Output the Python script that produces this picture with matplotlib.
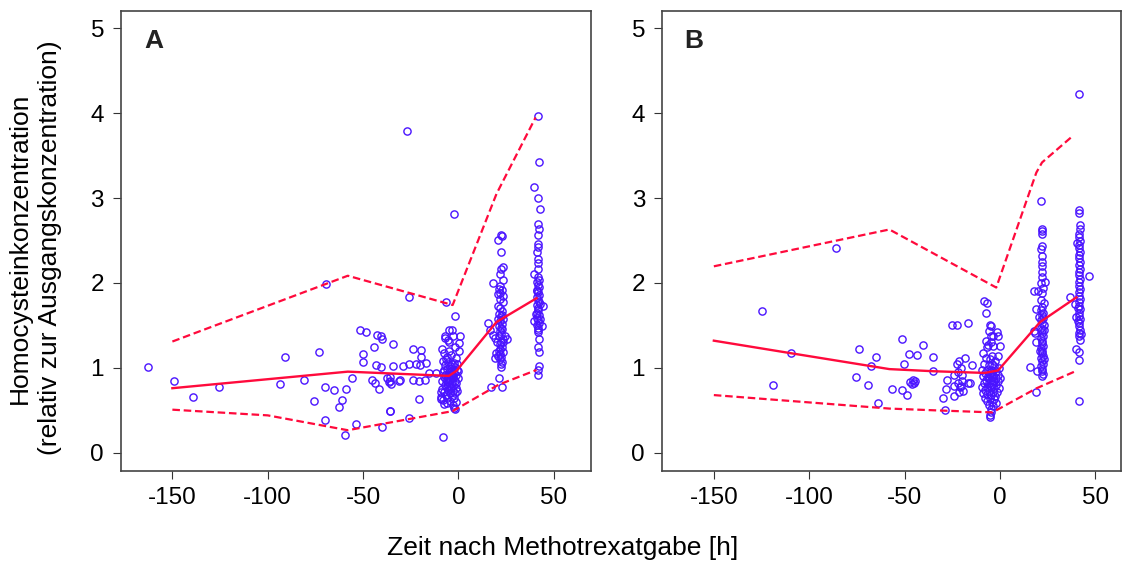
import matplotlib
matplotlib.use("Agg")
import matplotlib.pyplot as plt

plt.rcParams['font.family'] = ['Liberation Sans', 'DejaVu Sans']
plt.rcParams['axes.unicode_minus'] = False

# Panel A: measured points (time [h], relative homocysteine)
a_x = [-162.8, -149, -139, -125.6, -93.6, -90.8, -81, -75.7, -73.1, -69.4, -69.8, -69.8, -65.4, -62.8,
       -60.9, -59.7, -58.8, -55.6, -53.9, -51.6, -48.4, -44.1, -42.9, -40.6, -40.0, -49.8, -49.8, -43.2,
       -40.4, -45.3, -43.5, -41.8, -40.0, -37.6, -36.2, -35.2, -35.7, -36.0, -34.3, -34.3, -31.3, -27.1,
       -29.2, -25.7, -25.7, -23.6, -19.6, -19.6, -22, -20, -17, -15.2, -11.7, -35.6, -30.8, -23.6,
       -20.7, -17.4, -35.6, -25.7, -20.8, -8.2, -8.9, -8.9, -9.2, -7.6, -2.4, -2.0, -2.1, -6.3, -1.7,
       # cluster just before dosing
       -4.7, -3.5, -7.1, -2.8, 0.6, -5.5, -6.8, -4.8, 0.5, -8.6, -5.0, 0.3, -2.0, -7.5, -6.0, -3.8,
       -1.0, -8.0, -5.5, -2.5, -0.5, -7.0, -4.5, -1.8, -6.2, -3.2, -0.8, -8.2, -5.0, -2.2, -6.8, -4.0,
       -1.2, -7.6, -5.6, -3.0, -0.4, -6.4, -4.4, -2.0, -8.4, -5.2, -3.6, -1.0, -7.0, -4.8, -2.6, -6.0,
       -3.8, -1.4, -8.8, -5.4, -2.8, -0.6, -7.4, -4.2, -1.8, -6.6, -3.4, -5.8, -2.4, -8.0, -4.6, -1.2,
       -6.2, -3.0, -5.0, -4.0, -3.3, -6.5, -5.8, -2.9, -4.3, -3.7, -7.8, -0.2,
       # ~22 h
       22.4, 23.0, 21.0, 22.6, 23.2, 22.6, 22.0, 18.0, 23.2, 22.0, 21.2, 20.6, 23.2, 22.0, 23.2, 20.6,
       15.7, 16.8, 18.0, 19.0, 25.3, 19.8, 19.0, 21.1, 16.9, 22.8,
       22.0, 23.0, 21.5, 22.5, 23.5, 21.8, 22.8, 21.2, 23.0, 22.0, 22.6, 21.4, 23.4, 22.2, 21.6, 22.8,
       22.0, 23.2, 21.8, 22.4, 21.6, 22.8, 22.2, 22.6, 23.0, 21.0, 22.4, 23.6, 21.4, 22.0, 23.0, 20.0,
       24.5, 20.8,
       # ~42 h
       41.6, 42.1, 39.5, 41.6, 43.0, 41.6, 42.1, 41.6, 41.6, 42.0, 41.3, 41.6, 41.6, 42.0, 39.5,
       41.6, 42.2, 41.0, 41.8, 42.4, 41.2, 41.8, 42.2, 41.0, 41.6, 42.4, 41.2, 44.3, 41.8, 42.0, 41.4,
       42.2, 41.0, 39.5, 41.8, 42.4, 43.6, 41.2, 41.8, 42.0, 41.6, 42.1, 41.6, 42.1, 42.5, 42.0, 41.6,
       41.4, 42.6, 40.8, 42.8]
a_y = [1.01, 0.845, 0.66, 0.78, 0.81, 1.13, 0.86, 0.605, 1.19, 1.99, 0.77, 0.385, 0.735, 0.54,
       0.625, 0.21, 0.745, 0.875, 0.34, 1.45, 1.42, 1.25, 1.39, 1.37, 1.335, 1.16, 1.07, 1.03,
       1.01, 0.856, 0.825, 0.745, 0.306, 0.88, 0.83, 0.81, 0.895, 0.49, 1.28, 1.02, 0.85, 3.79,
       1.02, 1.04, 1.83, 1.22, 1.21, 1.13, 1.04, 1.03, 1.06, 0.94, 0.94, 0.85, 0.86, 0.86,
       0.85, 0.86, 0.49, 0.41, 0.63, 0.18, 0.72, 0.66, 0.63, 0.57, 0.53, 0.51, 2.81, 1.78, 1.61,
       1.44, 1.44, 1.37, 1.37, 1.38, 1.33, 1.35, 1.30, 1.29, 1.22, 1.20, 1.20, 1.25, 1.17, 1.13, 1.15,
       1.12, 1.08, 1.07, 1.06, 1.05, 1.03, 1.02, 1.01, 0.99, 0.98, 0.97, 0.95, 0.95, 0.94, 0.92, 0.92,
       0.91, 0.89, 0.89, 0.88, 0.88, 0.86, 0.86, 0.85, 0.84, 0.83, 0.82, 0.82, 0.80, 0.80, 0.79, 0.77,
       0.77, 0.76, 0.75, 0.74, 0.73, 0.73, 0.71, 0.70, 0.70, 0.68, 0.67, 0.65, 0.64, 0.62, 0.61, 0.60,
       0.58, 0.56, 0.90, 0.96, 1.04, 1.10, 0.84, 0.90, 0.76, 0.93, 0.98, 0.96,
       2.57, 2.55, 2.51, 2.36, 2.19, 2.16, 2.11, 2.00, 2.03, 1.97, 1.93, 1.87, 1.85, 1.81, 1.77, 1.73,
       1.53, 1.445, 1.39, 1.35, 1.335, 1.17, 1.11, 0.885, 0.77, 0.78,
       1.70, 1.67, 1.64, 1.61, 1.58, 1.55, 1.52, 1.49, 1.46, 1.43, 1.40, 1.37, 1.34, 1.31, 1.28, 1.25,
       1.22, 1.19, 1.16, 1.13, 1.10, 1.07, 1.04, 1.01, 1.62, 1.58, 1.47, 1.30, 1.20, 1.88, 1.92, 1.30,
       1.38, 1.14,
       3.97, 3.42, 3.13, 3.00, 2.87, 2.69, 2.63, 2.57, 2.46, 2.42, 2.36, 2.28, 2.23, 2.17, 2.10,
       2.07, 2.04, 2.01, 1.98, 1.95, 1.92, 1.89, 1.86, 1.83, 1.80, 1.77, 1.74, 1.73, 1.71, 1.68, 1.65,
       1.62, 1.59, 1.555, 1.56, 1.53, 1.49, 1.50, 1.47, 1.44, 1.42, 1.34, 1.24, 1.19, 1.02, 0.97, 0.92,
       1.90, 1.75, 1.63, 1.58]

# Panel A: median and 5/95 % curves
a_line_x = [-150, -58, -5, -1, 20, 41]
a_med = [0.76, 0.955, 0.905, 0.965, 1.54, 1.82]
a_up_x = [-150, -58, -3, 20, 40.5]
a_up = [1.31, 2.085, 1.74, 3.05, 3.95]
a_lo_x = [-150, -100, -58, -3, 21, 41]
a_lo = [0.507, 0.44, 0.265, 0.49, 0.80, 0.975]

# Panel B: measured points
b_x = [-124.7, -119.2, -109.7, -86.2, -75.6, -73.7, -69.2, -67.6, -65.1, -63.9, -56.4, -51.5, -51.5,
       -48.9, -50.3, -47.6, -43.7, -40.4, -47.2, -46.2, -45.5, -45.0, -44.5, -35.1, -35.1, -25.3, -22.7,
       -16.6, -30.0, -28.9, -28.3, -27.6, -24.1, -23.9, -21.3, -20.6, -22.7, -21.3, -18.4, -21.8, -24.1,
       -16.6, -15.7, -14.8, -20.5, -20.0, -22.0, -20.0, -21.0, -19.5, -8.2, -7.0, -7.5, -5.2, -5.2, -4.8,
       # cluster just before dosing
       -5.2, -4.8, -6.0, -1.5, -1.2, -4.5, -3.5, -7.5, -5.0, -6.2, -3.8, -7.0, 0.0, -9.0, -1.0, -4.0,
       -7.2, -5.5, -2.5, -8.5, -6.0, -3.0, -0.8, -9.5, -7.0, -4.5, -2.0, -8.0, -5.5, -3.5, -1.0, -9.0,
       -6.5, -4.0, -2.2, -0.2, -7.5, -5.0, -3.0, -1.2, -8.5, -6.0, -4.2, -2.0, -9.5, -7.0, -5.0, -3.2,
       -0.8, -8.0, -5.8, -3.8, -1.8, -9.0, -6.8, -4.5, -2.5, -8.0, -5.5, -3.2, -7.0, -4.2, -2.0, -6.0,
       -3.5, -4.8, -5.0, -4.0, -6.2, -3.8, -5.4,
       # ~22 h
       21.3, 22.0, 22.0, 22.0, 22.0, 21.3, 22.0, 22.0, 22.0, 22.0, 22.2, 21.6, 23.6, 22.4, 21.8, 17.8,
       20.1, 18.9, 17.8, 18.1, 18.9, 15.7, 19.5, 18.9,
       22.0, 21.6, 22.4, 21.8, 22.6, 21.4, 22.2, 22.8, 21.6, 22.2, 21.8, 22.6, 21.4, 22.2, 21.8, 22.6,
       21.6, 22.2, 21.8, 22.4, 21.4, 22.0, 22.6, 21.6, 22.2, 21.8, 22.4, 22.0, 21.2, 22.8, 20.5, 23.0,
       20.8, 23.2,
       # ~42 h
       41.6, 41.6, 41.6, 41.8, 42.0, 40.4, 46.6, 36.7, 39.5, 40.0, 39.9, 41.6, 41.6, 41.6,
       41.6, 41.4, 41.8, 41.6, 41.2, 41.8, 41.4, 41.6, 42.0, 41.4, 41.8, 41.6, 41.2, 41.8, 41.6, 41.4,
       42.0, 41.6, 41.2, 41.8, 41.6, 41.4, 42.0, 41.6, 41.2, 41.8, 41.6, 41.4, 41.8, 41.6, 41.2, 41.8,
       40.8, 42.2, 40.6]
b_y = [1.67, 0.80, 1.18, 2.41, 0.89, 1.225, 0.80, 1.02, 1.13, 0.59, 0.755, 1.34, 0.735,
       0.68, 1.04, 1.16, 1.15, 1.27, 0.83, 0.81, 0.86, 0.82, 0.84, 1.13, 0.96, 1.51, 1.51,
       1.53, 0.64, 0.50, 0.75, 0.856, 0.67, 0.785, 0.72, 0.785, 1.045, 1.085, 1.12, 0.955, 0.915,
       0.825, 0.82, 1.03, 1.00, 0.92, 0.82, 0.85, 0.77, 0.73, 1.79, 1.76, 1.65, 0.42, 0.445, 0.48,
       1.50, 1.49, 1.43, 1.42, 1.38, 1.38, 1.37, 1.32, 1.30, 1.27, 1.26, 1.24, 1.26, 1.18, 1.14, 1.14,
       1.12, 1.10, 1.08, 1.05, 1.03, 1.02, 1.00, 0.98, 0.97, 0.97, 0.96, 0.94, 0.93, 0.92, 0.92, 0.90,
       0.90, 0.89, 0.88, 0.88, 0.86, 0.86, 0.85, 0.84, 0.82, 0.82, 0.81, 0.80, 0.78, 0.78, 0.77, 0.76,
       0.76, 0.74, 0.73, 0.72, 0.72, 0.70, 0.69, 0.68, 0.67, 0.65, 0.64, 0.63, 0.61, 0.60, 0.59, 0.56,
       0.55, 0.52, 0.95, 1.05, 0.88, 0.84, 0.79,
       2.96, 2.64, 2.61, 2.58, 2.44, 2.40, 2.32, 2.25, 2.20, 2.13, 2.07, 2.00, 2.01, 1.94, 1.88, 1.90,
       1.90, 1.69, 1.43, 1.41, 1.31, 1.01, 0.96, 0.71,
       1.72, 1.68, 1.65, 1.62, 1.59, 1.56, 1.53, 1.50, 1.47, 1.44, 1.41, 1.38, 1.35, 1.32, 1.29, 1.26,
       1.23, 1.20, 1.17, 1.14, 1.11, 1.08, 1.05, 1.02, 0.99, 0.96, 0.93, 0.90, 1.80, 1.76, 1.60, 1.45,
       1.20, 1.10,
       4.225, 2.86, 2.82, 2.68, 2.63, 2.47, 2.08, 1.83, 1.75, 1.60, 1.22, 1.19, 1.09, 0.61,
       2.58, 2.54, 2.50, 2.45, 2.41, 2.37, 2.33, 2.29, 2.25, 2.21, 2.17, 2.13, 2.09, 2.05, 2.01, 1.97,
       1.93, 1.89, 1.85, 1.81, 1.77, 1.73, 1.69, 1.65, 1.61, 1.57, 1.53, 1.49, 1.45, 1.41, 1.37, 1.33,
       1.70, 1.40, 1.55]

# Panel B: median and 5/95 % curves
b_line_x = [-150, -109, -58, -35, -8, -1, 21, 40]
b_med = [1.32, 1.17, 0.985, 0.96, 0.94, 0.97, 1.54, 1.83]
b_up_x = [-150, -58, -2, 19, 22, 38.5]
b_up = [2.196, 2.63, 1.946, 3.3, 3.42, 3.74]
b_lo_x = [-150, -58, -35, -4, 19, 40]
b_lo = [0.679, 0.52, 0.50, 0.475, 0.758, 0.965]

x_ticks = [-150, -100, -50, 0, 50]
y_ticks = [0, 1, 2, 3, 4, 5]

pt_color = "#4a14ff"
line_color = "#ff0a3c"
dash = (0, (3.4, 1.7))

fig = plt.figure(figsize=(11.26, 5.65), dpi=100)
ax_a = fig.add_axes([0.1072, 0.1669, 0.4174, 0.8136])
ax_b = fig.add_axes([0.5877, 0.1669, 0.4079, 0.8136])

panels = [
    (ax_a, "A", a_x, a_y, a_line_x, a_med, a_up_x, a_up, a_lo_x, a_lo, (-177.1, 69.4)),
    (ax_b, "B", b_x, b_y, b_line_x, b_med, b_up_x, b_up, b_lo_x, b_lo, (-177.3, 63.4)),
]

for ax, letter, px, py, lx, med, ux, up, lox, lo, xlim in panels:
    ax.plot(px, py, linestyle="none", marker="o", markersize=5.2, markerfacecolor="none",
            markeredgecolor=pt_color, markeredgewidth=1.0, zorder=2)
    ax.plot(lx, med, color=line_color, lw=1.7, zorder=3)
    ax.plot(ux, up, color=line_color, lw=1.6, linestyle=dash, zorder=3)
    ax.plot(lox, lo, color=line_color, lw=1.6, linestyle=dash, zorder=3)

    ax.set_xlim(*xlim)
    ax.set_ylim(-0.212, 5.204)
    ax.set_xticks(x_ticks)
    ax.set_yticks(y_ticks)
    ax.tick_params(labelsize=17.5, length=6, width=0.8, color="#333333", pad=6)
    for s in ax.spines.values():
        s.set_color("#444444")
        s.set_linewidth(1.2)
    ax.text(0.05, 0.961, letter, transform=ax.transAxes, fontsize=19, fontweight="bold",
            color="#222222", va="top", ha="left")

fig.text(0.031, 0.561, "Homocysteinkonzentration\n(relativ zur Ausgangskonzentration)",
         rotation=90, ha="center", va="center", fontsize=19, linespacing=1.3)
fig.text(0.5, 0.03, "Zeit nach Methotrexatgabe [h]", ha="center", va="center", fontsize=19)

fig.savefig("out.png", dpi=100)
